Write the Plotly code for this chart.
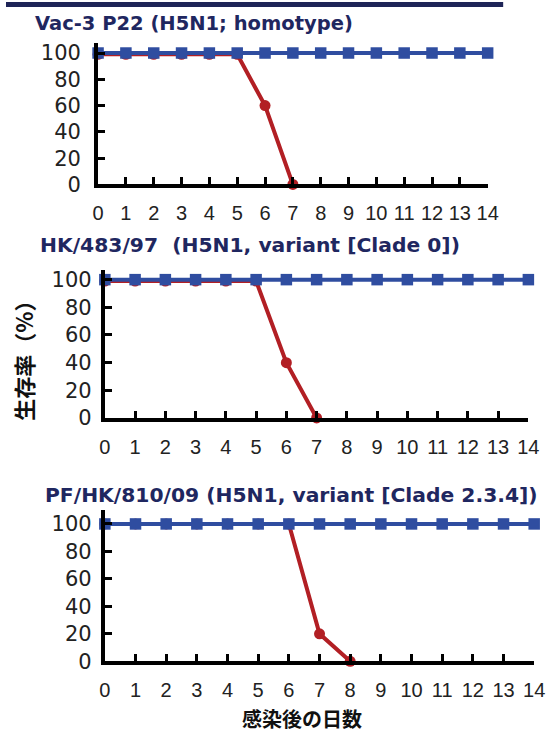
import plotly.graph_objects as go

days_all = list(range(0, 15))
blue_1 = [100] * 15
blue_2 = [100] * 15
blue_3 = [100] * 15

days_red_1 = [0, 1, 2, 3, 4, 5, 6, 7]
red_1 = [99, 99, 99, 99, 99, 99, 60, 0]
days_red_2 = [0, 1, 2, 3, 4, 5, 6, 7]
red_2 = [99, 99, 99, 99, 99, 99, 40, 0]
days_red_3 = [0, 1, 2, 3, 4, 5, 6, 7, 8]
red_3 = [100, 100, 100, 100, 100, 100, 100, 20, 0]

titles = ["Vac-3 P22 (H5N1; homotype)",
          "HK/483/97\u00a0 (H5N1, variant [Clade 0])",
          "PF/HK/810/09 (H5N1, variant [Clade 2.3.4])"]
y_ticks = [0, 20, 40, 60, 80, 100]
x_ticks = list(range(0, 15))
y_title = "生存率（%）"
x_title = "感染後の日数"

RED = "#b21f24"
BLUE = "#2f4da0"
NAVY = "#1f2760"
W, H = 551, 740

fig = go.Figure()

panels = [
    (days_red_1, red_1, blue_1, "x", "y"),
    (days_red_2, red_2, blue_2, "x2", "y2"),
    (days_red_3, red_3, blue_3, "x3", "y3"),
]
for dr, r, b, xa, ya in panels:
    fig.add_trace(go.Scatter(x=dr, y=r, mode="lines+markers", xaxis=xa, yaxis=ya,
                             line=dict(color=RED, width=4),
                             marker=dict(symbol="circle", size=11, color=RED),
                             cliponaxis=False, showlegend=False))
    fig.add_trace(go.Scatter(x=days_all, y=b, mode="lines+markers", xaxis=xa, yaxis=ya,
                             line=dict(color=BLUE, width=4),
                             marker=dict(symbol="square", size=11.5, color=BLUE),
                             cliponaxis=False, showlegend=False))

def px(x):
    return x / W

def py(y):
    return (H - y) / H

# x0px, x14px, y0px, y100px, ytop_px, ylabel standoff
geom = [
    (95, 497, 186, 52, 42, 9),
    (102, 539, 424, 283, 273, 5),
    (102, 545, 672, 532, 518, 5),
]

xtickfont = dict(family="Liberation Sans, Arial, sans-serif", size=20, color="#222222")
ytickfont = dict(family="DejaVu Sans, sans-serif", size=21, color="#222222")
names = [("xaxis", "yaxis", "y", "x"), ("xaxis2", "yaxis2", "y2", "x2"), ("xaxis3", "yaxis3", "y3", "x3")]
for (xn, yn, yanc, xanc), (x0, x14, y0, y100, yt, ystand) in zip(names, geom):
    ytop = 100 * (y0 - yt) / (y0 - y100)
    fig.layout[xn] = dict(domain=[px(x0), px(x14)], anchor=yanc, range=[0, 14],
                          tickvals=x_ticks, ticks="inside", ticklen=7, tickwidth=3,
                          tickcolor="black", showline=True, linecolor="black", linewidth=4,
                          showgrid=False, zeroline=False, tickfont=xtickfont,
                          ticklabelstandoff=8, fixedrange=True)
    fig.layout[yn] = dict(domain=[py(y0), py(yt)], anchor=xanc, range=[0, ytop],
                          tickvals=y_ticks, ticks="inside", ticklen=7, tickwidth=3,
                          tickcolor="black", showline=True, linecolor="black", linewidth=4,
                          showgrid=False, zeroline=False, tickfont=ytickfont,
                          ticklabelstandoff=ystand, fixedrange=True)

title_pos = [(28, 22, 19.5), (33, 248, 20.3), (38, 503, 20.3)]
annotations = []
for t, (tx, ty, fs) in zip(titles, title_pos):
    annotations.append(dict(text="<b>" + t + "</b>", x=px(tx), y=py(ty), xref="paper", yref="paper",
                            xanchor="left", yanchor="middle", showarrow=False,
                            font=dict(family="DejaVu Sans, sans-serif", size=fs, color=NAVY)))
annotations.append(dict(text="<b>" + y_title + "</b>", x=px(18), y=py(360), xref="paper", yref="paper",
                        xanchor="center", yanchor="middle", showarrow=False, textangle=-90,
                        font=dict(family="Noto Sans CJK JP, sans-serif", size=22, color="#111111")))
annotations.append(dict(text="<b>" + x_title + "</b>", x=px(305), y=py(730), xref="paper", yref="paper",
                        xanchor="center", yanchor="middle", showarrow=False,
                        font=dict(family="Noto Sans CJK JP, sans-serif", size=20, color="#111111")))

fig.update_layout(
    width=W, height=H, margin=dict(l=0, r=0, t=0, b=0),
    paper_bgcolor="white", plot_bgcolor="white",
    annotations=annotations,
    shapes=[dict(type="rect", xref="paper", yref="paper", x0=0, x1=px(513), y0=py(5), y1=1,
                 fillcolor="#1e2457", line=dict(width=0), layer="above")],
)

fig.write_html("out.html", config={"displayModeBar": False},
               post_script="document.body.style.margin='0px';document.body.style.overflow='hidden';")
